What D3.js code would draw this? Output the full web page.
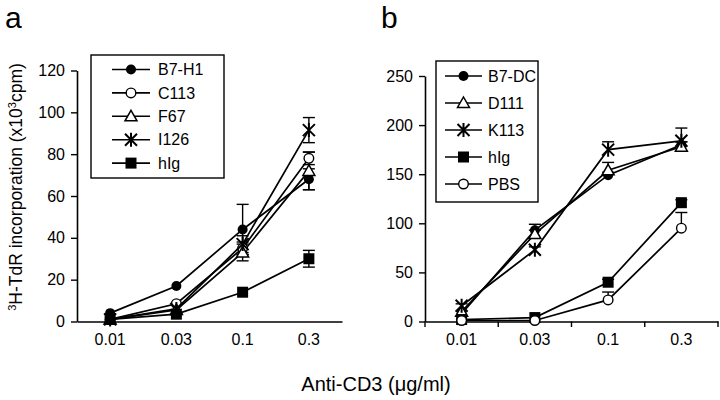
<!DOCTYPE html>
<html><head><meta charset="utf-8">
<script src="https://cdn.jsdelivr.net/npm/d3@7"></script>
<style>body{margin:0;background:#fff}svg{display:block}text{font-family:"Liberation Sans",Arial,sans-serif;fill:#000}</style>
</head><body><svg id="c" width="720" height="400"></svg>
<script>
const doses = ["0.01","0.03","0.1","0.3"];
// panel a
const namesA = ["B7-H1","C113","F67","I126","hIg"];
const symA = ["dot","circle","triangle","asterisk","square"];
const b7h1 = [4,17,44,68], b7h1Err = [1,1,12,5];
const c113 = [1,8.5,35,78], c113Err = [0.5,1,3,3];
const f67 = [1,5.5,33,72], f67Err = [0.5,1,4,9];
const i126 = [1,6,37,91.5], i126Err = [0.5,1,4,6];
const higA = [1,3.5,14,30], higAErr = [0.5,0.5,1,4];
const ticksA = [0,20,40,60,80,100,120];
// panel b
const namesB = ["B7-DC","D111","K113","hIg","PBS"];
const symB = ["dot","triangle","asterisk","square","circle"];
const b7dc = [8,93,149,180], b7dcErr = [1,6,3,3];
const d111 = [10,89,154,178], d111Err = [1,4,8,5];
const k113 = [16,73,175,184], k113Err = [2,3,8,13];
const higB = [2,4,40,121], higBErr = [0.5,1,3,3];
const pbs = [1,1,22,95], pbsErr = [0.5,0.5,8,16];
const ticksB = [0,50,100,150,200,250];

const svg = d3.select("#c");
const FONT = 16;

function marker(g, type, x, y){
  const s = g.append("g").attr("transform",`translate(${x},${y})`);
  if(type==="dot") s.append("circle").attr("r",5).attr("fill","#000");
  else if(type==="circle") s.append("circle").attr("r",4.8).attr("fill","#fff").attr("stroke","#000").attr("stroke-width",1.4);
  else if(type==="square") s.append("rect").attr("x",-5.5).attr("y",-5.5).attr("width",11).attr("height",11).attr("fill","#000");
  else if(type==="triangle") s.append("path").attr("d","M0,-6L6,4.5L-6,4.5Z").attr("fill","#fff").attr("stroke","#000").attr("stroke-width",1.5);
  else if(type==="asterisk") s.append("path").attr("d","M0,-7V7M-6,-6L6,6M-6,6L6,-6").attr("stroke","#000").attr("stroke-width",2).attr("fill","none");
}

function panel(cfg){
  const g = svg.append("g");
  const x = d3.scaleBand().domain(doses).range(cfg.xr).padding(0);
  const y = d3.scaleLinear().domain([0,cfg.ymax]).range([321.5,cfg.ytop]);
  const cx = d => x(d)+x.bandwidth()/2;
  // y axis
  const ya = g.append("g").attr("transform",`translate(${cfg.xr[0]},0)`)
    .call(d3.axisLeft(y).tickValues(cfg.ticks).tickSize(6).tickSizeOuter(0).tickPadding(6));
  ya.select(".domain").attr("stroke-width",1.6);
  ya.selectAll(".tick line").attr("stroke-width",1.4);
  ya.selectAll("text").style("font-size",FONT+"px").attr("fill","#000");
  // x axis
  const xa = g.append("g").attr("transform",`translate(0,321.5)`)
    .call(d3.axisBottom(x).tickSize(0).tickSizeOuter(0).tickPadding(12));
  xa.select(".domain").attr("stroke-width",1.6);
  xa.selectAll("text").style("font-size",FONT+"px").attr("fill","#000");
  if(cfg.xticks){
    const b = doses.map(d=>x(d)).concat([cfg.xr[1]]);
    g.selectAll(".xt").data(b).enter().append("line")
      .attr("x1",d=>d).attr("x2",d=>d).attr("y1",321.5).attr("y2",327)
      .attr("stroke","#000").attr("stroke-width",1.4);
  }
  const line = d3.line().x((d,i)=>cx(doses[i])).y(d=>y(d));
  cfg.series.forEach(s=>{
    g.append("path").attr("d",line(s.v)).attr("fill","none").attr("stroke","#000").attr("stroke-width",1.7);
  });
  // error bars
  cfg.series.forEach(s=>{
    s.v.forEach((v,i)=>{
      const e = s.e[i]; if(e<2) return;
      const xx = cx(doses[i]);
      const lo = cfg.upOnly ? v : v-e;
      g.append("line").attr("x1",xx).attr("x2",xx).attr("y1",y(lo)).attr("y2",y(v+e)).attr("stroke","#000").attr("stroke-width",1.4);
      g.append("line").attr("x1",xx-6).attr("x2",xx+6).attr("y1",y(v+e)).attr("y2",y(v+e)).attr("stroke","#000").attr("stroke-width",1.4);
      if(!cfg.upOnly) g.append("line").attr("x1",xx-6).attr("x2",xx+6).attr("y1",y(v-e)).attr("y2",y(v-e)).attr("stroke","#000").attr("stroke-width",1.4);
    });
  });
  cfg.series.forEach(s=>{
    s.v.forEach((v,i)=>marker(g,s.sym,cx(doses[i]),y(v)));
  });
  // legend
  const L = cfg.legend;
  g.append("rect").attr("x",L.x).attr("y",L.y).attr("width",L.w).attr("height",L.h)
    .attr("fill","#fff").attr("stroke","#000").attr("stroke-width",1.4);
  cfg.series.forEach((s,i)=>{
    const yy = L.y0 + i*L.dy;
    g.append("line").attr("x1",L.lx1).attr("x2",L.lx2).attr("y1",yy).attr("y2",yy).attr("stroke","#000").attr("stroke-width",1.6);
    marker(g,s.sym,(L.lx1+L.lx2)/2,yy);
    g.append("text").attr("x",L.tx).attr("y",yy).attr("dy","0.36em").style("font-size",FONT+"px").text(s.name);
  });
  g.append("text").attr("x",cfg.lab[0]).attr("y",cfg.lab[1]).style("font-size","30px").text(cfg.label);
}

const valsA=[b7h1,c113,f67,i126,higA], errsA=[b7h1Err,c113Err,f67Err,i126Err,higAErr];
const valsB=[b7dc,d111,k113,higB,pbs], errsB=[b7dcErr,d111Err,k113Err,higBErr,pbsErr];

panel({xr:[77,342], ymax:120, ytop:70.5, ticks:ticksA, xticks:false, upOnly:false,
  series:namesA.map((n,i)=>({name:n,sym:symA[i],v:valsA[i],e:errsA[i]})),
  legend:{x:91,y:55,w:133,h:123,y0:69.5,dy:23.4,lx1:112,lx2:150,tx:158},
  label:"a", lab:[5,28]});
panel({xr:[425,718], ymax:250, ytop:76, ticks:ticksB, xticks:true, upOnly:true,
  series:namesB.map((n,i)=>({name:n,sym:symB[i],v:valsB[i],e:errsB[i]})),
  legend:{x:436,y:61,w:102,h:141,y0:76,dy:27,lx1:445,lx2:482,tx:488},
  label:"b", lab:[381,28]});

// y title
const yt = svg.append("text").attr("transform","translate(22,187) rotate(-90)").attr("text-anchor","middle").style("font-size","17.5px");
yt.append("tspan").attr("baseline-shift","super").style("font-size","11px").text("3");
yt.append("tspan").text("H-TdR incorporation (x10");
yt.append("tspan").attr("baseline-shift","super").style("font-size","11px").text("3");
yt.append("tspan").text("cpm)");
// x title
svg.append("text").attr("x",376).attr("y",391).attr("text-anchor","middle").style("font-size","20px").text("Anti-CD3 (\u03bcg/ml)");
</script></body></html>
